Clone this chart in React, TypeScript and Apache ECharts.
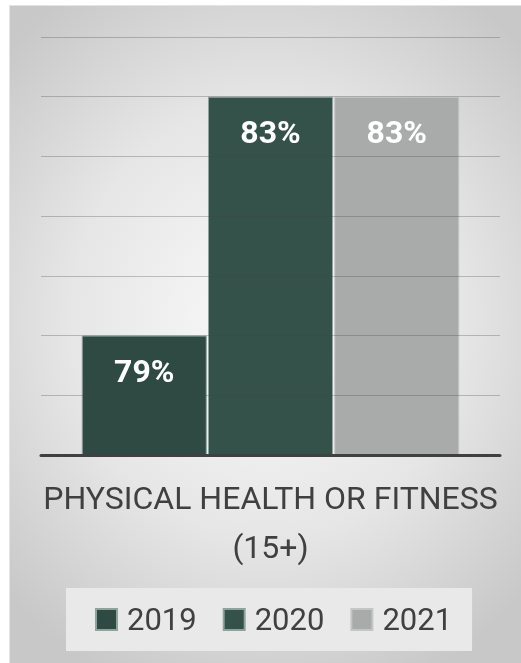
import React, { useEffect, useRef } from "react";
import * as echarts from "echarts";

const categories = ["PHYSICAL HEALTH OR FITNESS\n(15+)"];
const years = ["2019", "2020", "2021"];
const values2019 = [79];
const values2020 = [83];
const values2021 = [83];
const yearColors = ["#2e4a43", "#34514a", "#a8abaa"];
const seriesValues = [values2019, values2020, values2021];

export default function App() {
  const ref = useRef<HTMLDivElement>(null);
  useEffect(() => {
    if (!ref.current) return;
    const chart = echarts.init(ref.current, undefined, { renderer: "svg" });
    chart.setOption({
      animation: false,
      textStyle: { fontFamily: "Roboto" },
      grid: { left: 31, right: 21, top: 31, bottom: 208, containLabel: false },
      xAxis: {
        type: "category",
        data: categories,
        axisLine: { lineStyle: { color: "#404040", width: 3 } },
        axisTick: { show: false },
        axisLabel: {
          interval: 0,
          color: "#404040",
          fontSize: 32,
          lineHeight: 49,
          margin: 18,
          fontFamily: "Roboto",
        },
        z: 10,
      },
      yAxis: {
        type: "value",
        min: 77,
        max: 84,
        interval: 1,
        axisLabel: { show: false },
        axisLine: { show: false },
        axisTick: { show: false },
        splitLine: { lineStyle: { color: "rgba(70,70,70,0.3)", width: 1 } },
        z: 10,
      },
      legend: {
        data: years,
        left: 56,
        top: 582,
        backgroundColor: "#e9e9e9",
        padding: [16, 20, 16, 29],
        itemWidth: 21,
        itemHeight: 21,
        itemGap: 26,
        icon: "rect",
        textStyle: {
          color: "#404040",
          fontSize: 31,
          fontFamily: "Roboto",
          padding: [0, 0, 0, 5],
        },
      },
      series: years.map((y, i) => ({
        name: y,
        type: "bar",
        data: seriesValues[i],
        barWidth: 125,
        barGap: "1%",
        itemStyle: {
          color: yearColors[i],
          borderColor: i === 2 ? "#c4c6c5" : "#8fa39b",
          borderWidth: 1,
        },
        label: {
          show: true,
          position: "insideTop",
          distance: 19,
          formatter: "{c}%",
          color: "#ffffff",
          fontSize: 32,
          fontWeight: "bold",
          fontFamily: "Roboto",
        },
      })),
    });
    return () => chart.dispose();
  }, []);
  return (
    <div
      ref={ref}
      style={{
        position: "fixed",
        left: 9,
        top: 5,
        width: 512,
        height: 658,
        boxSizing: "border-box",
        borderTop: "1px solid #e4e4e4",
        borderLeft: "1px solid #e4e4e4",
        background:
          "radial-gradient(ellipse 70% 60% at 50% 48%, #fafafa 0%, #e6e6e6 55%, #c8c8c8 100%)",
      }}
    />
  );
}
